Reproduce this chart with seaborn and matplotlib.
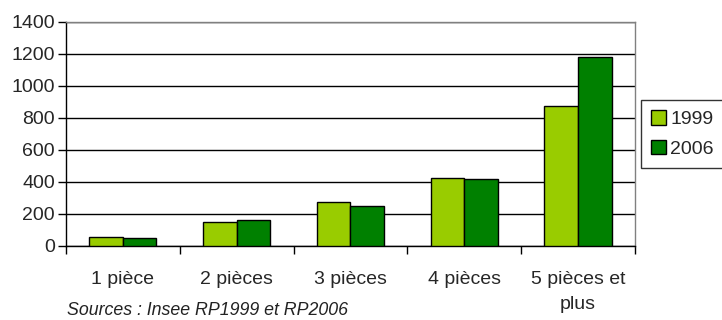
import pandas as pd
import matplotlib
matplotlib.use("Agg")
import matplotlib.pyplot as plt
import seaborn as sns

# Data
categories = ["1 pièce", "2 pièces", "3 pièces", "4 pièces", "5 pièces et\nplus"]
values_1999 = [56, 146, 273, 425, 873]
values_2006 = [48, 160, 248, 417, 1177]
years = ["1999", "2006"]
colors = ["#99CC00", "#008000"]

df = pd.DataFrame({
    "categorie": categories * 2,
    "valeur": values_1999 + values_2006,
    "annee": [years[0]] * len(categories) + [years[1]] * len(categories),
})

sns.set_style("white")
plt.rcParams["font.family"] = ["Liberation Sans", "DejaVu Sans"]

fig = plt.figure(figsize=(7.22, 3.2), dpi=100)
ax = fig.add_axes([0.0914, 0.232, 0.788, 0.700])

sns.barplot(data=df, x="categorie", y="valeur", hue="annee", palette=colors,
            width=0.59, edgecolor="black", linewidth=1, ax=ax, saturation=1, zorder=3)

# Axes
ax.set_ylim(0, 1400)
ax.set_xlim(-0.5, len(categories) - 0.5)
ax.set_yticks(range(0, 1401, 200))
ax.set_xlabel("")
ax.set_ylabel("")
ax.yaxis.grid(True, color="black", linewidth=1, zorder=0)
ax.set_axisbelow(True)
ax.tick_params(axis="y", labelsize=14, length=6, width=1, color="black", left=True, pad=2)
ax.tick_params(axis="x", labelsize=14, length=0, pad=18)
for lbl in ax.get_xticklabels():
    lbl.set_linespacing(1.6)
ax.set_xticks([i - 0.5 for i in range(len(categories) + 1)], minor=True)
ax.tick_params(axis="x", which="minor", length=6, width=1, color="black", bottom=True)

for side in ["left", "bottom"]:
    ax.spines[side].set_color("black")
    ax.spines[side].set_linewidth(1)
for side in ["top", "right"]:
    ax.spines[side].set_color("#808080")
    ax.spines[side].set_linewidth(1)

# Legend
handles, labels = ax.get_legend_handles_labels()
leg = ax.legend(handles, labels, loc="upper left", bbox_to_anchor=(0.888, 0.6875),
                bbox_transform=fig.transFigure, frameon=True, fancybox=False,
                edgecolor="black", fontsize=14, handlelength=0.8, handleheight=0.8,
                handletextpad=0.2, borderpad=0.5, labelspacing=0.6, borderaxespad=0)
leg.get_frame().set_linewidth(1)

# Source
fig.text(0.093, 0.015, "Sources : Insee RP1999 et RP2006", fontsize=12.8,
         style="italic", color="#222222", ha="left", va="baseline")

fig.savefig("out.png", dpi=100)
